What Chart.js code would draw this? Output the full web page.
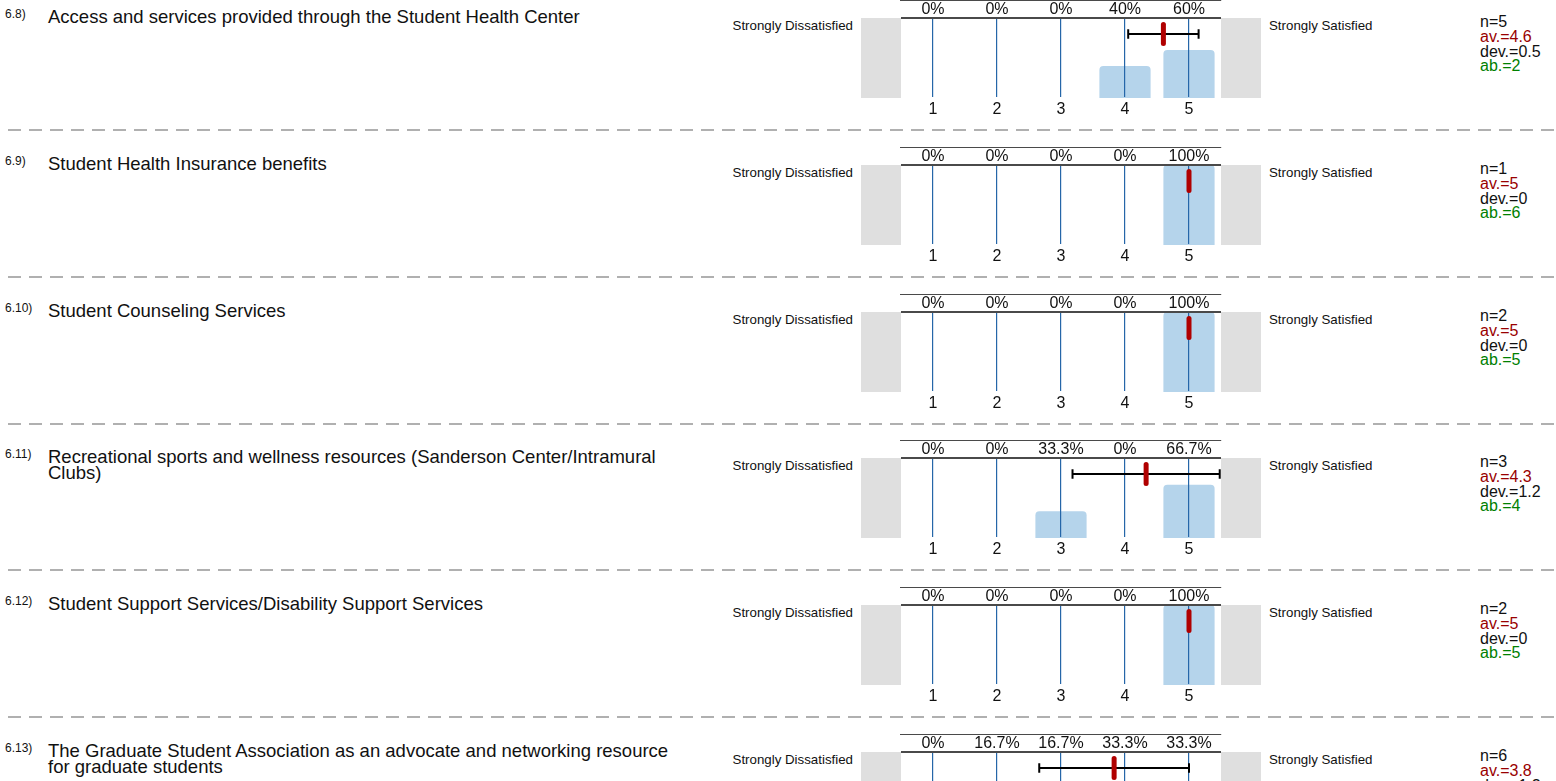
<!DOCTYPE html>
<html>
<head>
<meta charset="utf-8">
<script src="https://cdn.jsdelivr.net/npm/chart.js@4/dist/chart.umd.min.js"></script>
<style>
  body { margin: 0; width: 1556px; height: 781px; overflow: hidden; background: #fff;
         font-family: "Liberation Sans", Arial, sans-serif; color: #111; }
  .row { position: absolute; left: 0; width: 1556px; height: 147px; }
  .num { position: absolute; left: 5px; top: 8px; font-size: 12px; line-height: 13px; }
  .q { position: absolute; left: 48px; top: 9px; font-size: 18.5px; line-height: 16px; white-space: pre-line; }
  .lo { position: absolute; left: 653px; width: 200px; top: 19px; text-align: right; font-size: 13.3px; line-height: 14px; }
  .hi { position: absolute; left: 1269px; top: 19px; font-size: 13.3px; line-height: 14px; }
  .stats { position: absolute; left: 1480px; top: 15px; font-size: 16px; line-height: 14.8px; }
  .av { color: #990000; }
  .ab { color: #008000; }
  .row canvas { position: absolute; left: 850px; top: 0; }
  .sep { position: absolute; left: 0; width: 1556px; height: 2px;
         background: repeating-linear-gradient(to right, transparent 0 8px, #b0b0b0 8px 21px); }
</style>
</head>
<body>
<script>
const questionIds = ['6.8)', '6.9)', '6.10)', '6.11)', '6.12)', '6.13)'];
const questionTexts = [
  'Access and services provided through the Student Health Center',
  'Student Health Insurance benefits',
  'Student Counseling Services',
  'Recreational sports and wellness resources (Sanderson Center/Intramural\nClubs)',
  'Student Support Services/Disability Support Services',
  'The Graduate Student Association as an advocate and networking resource\nfor graduate students'
];
const scaleLabels = ['1', '2', '3', '4', '5'];
const lowLabel = 'Strongly Dissatisfied';
const highLabel = 'Strongly Satisfied';

// share of answers per scale point (%)
const pctHealthCenter = [0, 0, 0, 40, 60];
const pctInsurance = [0, 0, 0, 0, 100];
const pctCounseling = [0, 0, 0, 0, 100];
const pctRecreation = [0, 0, 33.3, 0, 66.7];
const pctSupport = [0, 0, 0, 0, 100];
const pctGradAssoc = [0, 16.7, 16.7, 33.3, 33.3];
const percentages = [pctHealthCenter, pctInsurance, pctCounseling, pctRecreation, pctSupport, pctGradAssoc];

const counts = [5, 1, 2, 3, 2, 6];
const means = [4.6, 5, 5, 4.33, 5, 3.83];
const deviations = [0.55, 0, 0, 1.15, 0, 1.17];
const meanLabels = ['4.6', '5', '5', '4.3', '5', '3.8'];
const devLabels = ['0.5', '0', '0', '1.2', '0', '1.2'];
const abstentions = ['2', '6', '5', '4', '5', ''];

const ROW_PITCH = 146.8;
const FONT = '"Liberation Sans", Arial, sans-serif';

const surveyDecor = {
  id: 'surveyDecor',
  beforeDraw(chart) {
    const { ctx, chartArea: a } = chart;
    ctx.save();
    ctx.fillStyle = '#dfdfdf';
    ctx.fillRect(a.left - 40, a.top, 40, a.bottom - a.top);
    ctx.fillRect(a.right, a.top, 40, a.bottom - a.top);
    ctx.restore();
  },
  afterDraw(chart, args, opts) {
    const { ctx, chartArea: a } = chart;
    const x = chart.scales.x;
    const y = chart.scales.y;
    ctx.save();
    // top frame line
    ctx.strokeStyle = '#4a4a4a';
    ctx.lineWidth = 2;
    ctx.beginPath();
    ctx.moveTo(a.left, a.top);
    ctx.lineTo(a.right, a.top);
    ctx.stroke();
    // percentages above the plot
    ctx.fillStyle = '#111';
    ctx.font = '16px ' + FONT;
    ctx.textAlign = 'center';
    ctx.textBaseline = 'alphabetic';
    opts.pct.forEach((v, i) => {
      ctx.fillText(v + '%', x.getPixelForValue(i), a.top - 4);
    });
    // standard deviation bar
    const yb = y.getPixelForValue(80);
    const x1 = x.getPixelForValue(opts.mean - opts.dev - 1);
    const x2 = x.getPixelForValue(opts.mean + opts.dev - 1);
    ctx.strokeStyle = '#000';
    ctx.lineWidth = 2;
    ctx.beginPath();
    ctx.moveTo(x1, yb);
    ctx.lineTo(x2, yb);
    ctx.moveTo(x1, y.getPixelForValue(86));
    ctx.lineTo(x1, y.getPixelForValue(74));
    ctx.moveTo(x2, y.getPixelForValue(86));
    ctx.lineTo(x2, y.getPixelForValue(74));
    ctx.stroke();
    // mean marker
    const xm = x.getPixelForValue(opts.mean - 1);
    ctx.strokeStyle = '#b00000';
    ctx.lineWidth = 5;
    ctx.lineCap = 'round';
    ctx.beginPath();
    ctx.moveTo(xm, y.getPixelForValue(92));
    ctx.lineTo(xm, y.getPixelForValue(68));
    ctx.stroke();
    ctx.restore();
  }
};

questionIds.forEach((id, i) => {
  const top = Math.round(i * ROW_PITCH);
  const row = document.createElement('div');
  row.className = 'row';
  row.style.top = top + 'px';
  row.innerHTML = `
    <div class="num">${id}</div>
    <div class="q">${questionTexts[i]}</div>
    <div class="lo">${lowLabel}</div>
    <div class="hi">${highLabel}</div>
    <div class="stats">n=${counts[i]}<br><span class="av">av.=${meanLabels[i]}</span><br>dev.=${devLabels[i]}<br><span class="ab">ab.=${abstentions[i]}</span></div>
    <canvas width="420" height="122"></canvas>`;
  document.body.appendChild(row);

  if (i < questionIds.length - 1) {
    const sep = document.createElement('div');
    sep.className = 'sep';
    sep.style.top = Math.round(i * ROW_PITCH + 129) + 'px';
    document.body.appendChild(sep);
  }

  new Chart(row.querySelector('canvas'), {
    type: 'bar',
    data: {
      labels: scaleLabels,
      datasets: [{
        data: percentages[i],
        backgroundColor: '#b5d4eb',
        borderRadius: { topLeft: 4, topRight: 4 },
        borderSkipped: 'bottom',
        barPercentage: 0.8,
        categoryPercentage: 1
      }]
    },
    options: {
      responsive: false,
      animation: false,
      layout: { padding: { left: 51, right: 49, top: 18, bottom: 0 } },
      plugins: {
        legend: { display: false },
        tooltip: { enabled: false },
        surveyDecor: { pct: percentages[i], mean: means[i], dev: deviations[i] }
      },
      scales: {
        x: {
          afterFit: (s) => { s.height = 24; },
          grid: { offset: false, color: '#2566a8', lineWidth: 1.2, drawTicks: false, z: 1 },
          border: { color: '#4a4a4a', width: 2 },
          ticks: { color: '#111', font: { size: 16, family: FONT }, padding: 2 }
        },
        y: { display: false, min: 0, max: 100 }
      }
    },
    plugins: [surveyDecor]
  });
});
</script>
</body>
</html>
